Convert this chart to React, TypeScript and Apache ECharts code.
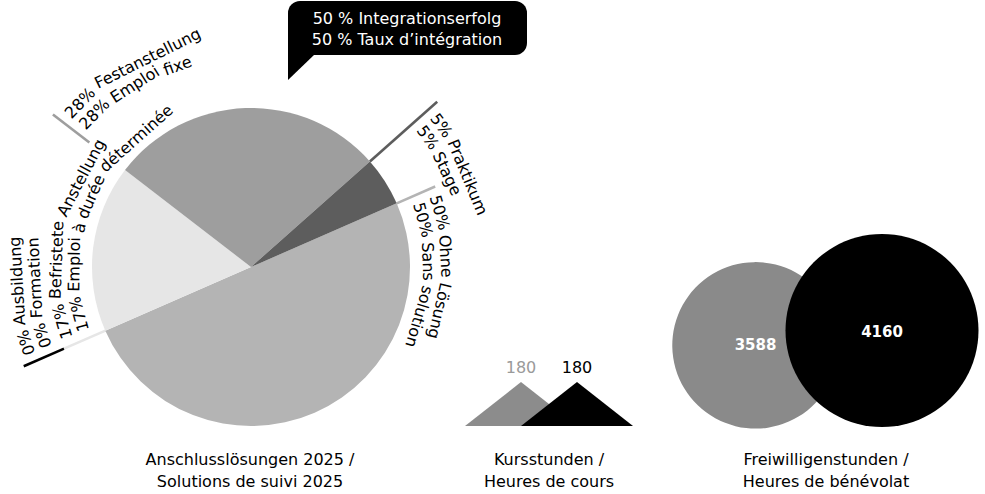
import React, { useEffect, useRef } from "react";
import * as echarts from "echarts";

// ---------- data ----------
const pieCategoriesDe = ["Ohne Lösung", "Ausbildung", "Befristete Anstellung", "Festanstellung", "Praktikum"];
const pieCategoriesFr = ["Sans solution", "Formation", "Emploi à durée déterminée", "Emploi fixe", "Stage"];
const pieValues = [50, 0, 17, 28, 5];
const integrationRate = 50;

const courseSeries = ["Kurs A", "Kurs B"];
const courseHours = [180, 180];

const volunteerSeries = ["Freiwillige A", "Freiwillige B"];
const volunteerHours = [3588, 4160];

const captions = [
  "Anschlusslösungen 2025 /\nSolutions de suivi 2025",
  "Kursstunden /\nHeures de cours",
  "Freiwilligenstunden /\nHeures de bénévolat",
];

// ---------- styles / layout ----------
const FONT = "DejaVu Sans";
const pieColors = ["#b4b4b4", "#000000", "#e6e6e6", "#9e9e9e", "#5d5d5d"];
const triColors = ["#8c8c8c", "#000000"];
const triLabelColors = ["#9a9a9a", "#000000"];
const circleColors = ["#8a8a8a", "#000000"];
const PIE_C = [251, 267];
const PIE_R = 159;
const START_ANGLE = 23.6;
// radial leader line span per slice [from, to]
const lineSpans = [
  [PIE_R, 201],
  [204, 248],
  [PIE_R - 2, 204],
  [204, 250],
  [PIE_R, 249],
];
// label ring per slice: text middle-line start radii [line1, line2] and inward drift per px
const INNER = { r: [197, 179], drift: 0.03 };
const OUTER = { r: [238, 220], drift: 0.05 };
const labelRings = [INNER, OUTER, INNER, OUTER, OUTER];

function polar(r: number, deg: number): [number, number] {
  const a = (deg * Math.PI) / 180;
  return [PIE_C[0] + r * Math.cos(a), PIE_C[1] - r * Math.sin(a)];
}

let measureCtx: CanvasRenderingContext2D | null = null;
function measure(text: string, font: string) {
  if (!measureCtx) measureCtx = document.createElement("canvas").getContext("2d");
  measureCtx!.font = font;
  return measureCtx!.measureText(text).width;
}

const centered = { align: "center", verticalAlign: "middle", textAlign: "center", textVerticalAlign: "middle" };

export default function App() {
  const ref = useRef<HTMLDivElement>(null);
  useEffect(() => {
    const el = ref.current!;
    const chart = echarts.init(el, null, { renderer: "svg" });
    const total = pieValues.reduce((a, b) => a + b, 0);
    const labelFont = `16px "${FONT}"`;
    const spaceW = measure(" ", labelFont);

    const graphics: any[] = [];
    let cum = 0;
    pieValues.forEach((v, i) => {
      const boundary = START_ANGLE - (360 * cum) / total;
      cum += v;
      const [r0, r1] = lineSpans[i];
      const p0 = polar(r0, boundary);
      const p1 = polar(r1, boundary);
      graphics.push({
        type: "line",
        silent: true,
        shape: { x1: p0[0], y1: p0[1], x2: p1[0], y2: p1[1] },
        style: { stroke: pieColors[i], lineWidth: 2.6 },
      });
      const lines = [`${v}% ${pieCategoriesDe[i]}`, `${v}% ${pieCategoriesFr[i]}`];
      const ring = labelRings[i];
      lines.forEach((t, j) => {
        const r0t = ring.r[j];
        const startDeg = boundary - (8 / r0t) * (180 / Math.PI);
        // place words along a gently inward-curving arc (clockwise), each tangent to it
        let s = 0;
        let ang = startDeg;
        t.split(" ").forEach((word) => {
          const ww = measure(word, labelFont);
          const sMid = s + ww / 2;
          const r = r0t - ring.drift * sMid;
          const midDeg = ang - (ww / 2 / r) * (180 / Math.PI);
          const [cx, cy] = polar(r, midDeg);
          graphics.push({
            type: "text",
            silent: true,
            x: cx,
            y: cy,
            rotation: ((midDeg - 90) * Math.PI) / 180,
            style: { text: word, fill: "#000", font: labelFont, ...centered },
          });
          ang = midDeg - ((ww / 2 + spaceW) / r) * (180 / Math.PI);
          s += ww + spaceW;
        });
      });
    });

    // speech bubble
    graphics.push({
      type: "group",
      silent: true,
      children: [
        { type: "rect", shape: { x: 288, y: 1, width: 239, height: 54, r: 12 }, style: { fill: "#000" } },
        { type: "polygon", shape: { points: [[288, 30], [288, 80], [314, 55], [320, 30]] }, style: { fill: "#000" } },
        {
          type: "text",
          x: 407,
          y: 18,
          style: { text: `${integrationRate} % Integrationserfolg`, fill: "#fff", font: labelFont, ...centered },
        },
        {
          type: "text",
          x: 407,
          y: 39,
          style: { text: `${integrationRate} % Taux d’intégration`, fill: "#fff", font: labelFont, ...centered },
        },
      ],
    });

    // captions
    const capX = [250, 549, 826];
    captions.forEach((c, i) => {
      graphics.push({
        type: "text",
        silent: true,
        x: capX[i],
        y: 470,
        style: { text: c, fill: "#000", font: `16px "${FONT}"`, lineHeight: 22, ...centered },
      });
    });

    const option: any = {
      animation: false,
      backgroundColor: "#ffffff",
      grid: [
        { left: 465, top: 382, width: 168, height: 44 },
        { left: 755.5, top: 234, width: 126.5, height: 193 },
      ],
      xAxis: [
        { gridIndex: 0, type: "value", min: 0, max: courseHours.length + 1, show: false },
        { gridIndex: 1, type: "value", min: 0, max: volunteerHours.length - 1, show: false },
      ],
      yAxis: [
        { gridIndex: 0, type: "value", min: 0, max: Math.max(...courseHours), show: false },
        { gridIndex: 1, type: "value", min: 0, max: Math.max(...volunteerHours), show: false },
      ],
      series: [
        {
          type: "pie",
          center: PIE_C,
          radius: PIE_R,
          startAngle: START_ANGLE,
          clockwise: true,
          silent: true,
          label: { show: false },
          labelLine: { show: false },
          emphasis: { disabled: true },
          itemStyle: { borderWidth: 0 },
          data: pieValues.map((v, i) => ({ name: pieCategoriesDe[i], value: v, itemStyle: { color: pieColors[i] } })),
        },
        {
          type: "custom",
          name: "Kursstunden",
          xAxisIndex: 0,
          yAxisIndex: 0,
          silent: true,
          data: courseHours.map((v, i) => [i + 1, v, courseSeries[i]]),
          renderItem: (params: any, api: any) => {
            const x = api.value(0);
            const v = api.value(1);
            const l = api.coord([x - 1, 0]);
            const t = api.coord([x, v]);
            const r = api.coord([x + 1, 0]);
            const i = params.dataIndex;
            return {
              type: "group",
              children: [
                { type: "polygon", shape: { points: [l, t, r] }, style: { fill: triColors[i] } },
                {
                  type: "text",
                  x: t[0],
                  y: t[1] - 15,
                  style: { text: String(v), fill: triLabelColors[i], font: `16px "${FONT}"`, align: "center", verticalAlign: "middle" },
                },
              ],
            };
          },
        },
        {
          type: "custom",
          name: "Freiwilligenstunden",
          xAxisIndex: 1,
          yAxisIndex: 1,
          silent: true,
          data: volunteerHours.map((v, i) => [i, v, volunteerSeries[i]]),
          renderItem: (params: any, api: any) => {
            const x = api.value(0);
            const v = api.value(1);
            const c = api.coord([x, v / 2]);
            const rad = api.size([0, v])[1] / 2;
            const i = params.dataIndex;
            return {
              type: "group",
              children: [
                { type: "circle", shape: { cx: c[0], cy: c[1], r: rad }, style: { fill: circleColors[i] } },
                {
                  type: "text",
                  x: c[0],
                  y: c[1] + 1,
                  style: { text: String(v), fill: "#fff", font: `bold 15px "${FONT}"`, align: "center", verticalAlign: "middle" },
                },
              ],
            };
          },
        },
      ],
      graphic: graphics,
    };
    chart.setOption(option);
    return () => chart.dispose();
  }, []);
  return <div ref={ref} style={{ position: "absolute", left: 0, top: 0, width: 985, height: 494 }} />;
}
